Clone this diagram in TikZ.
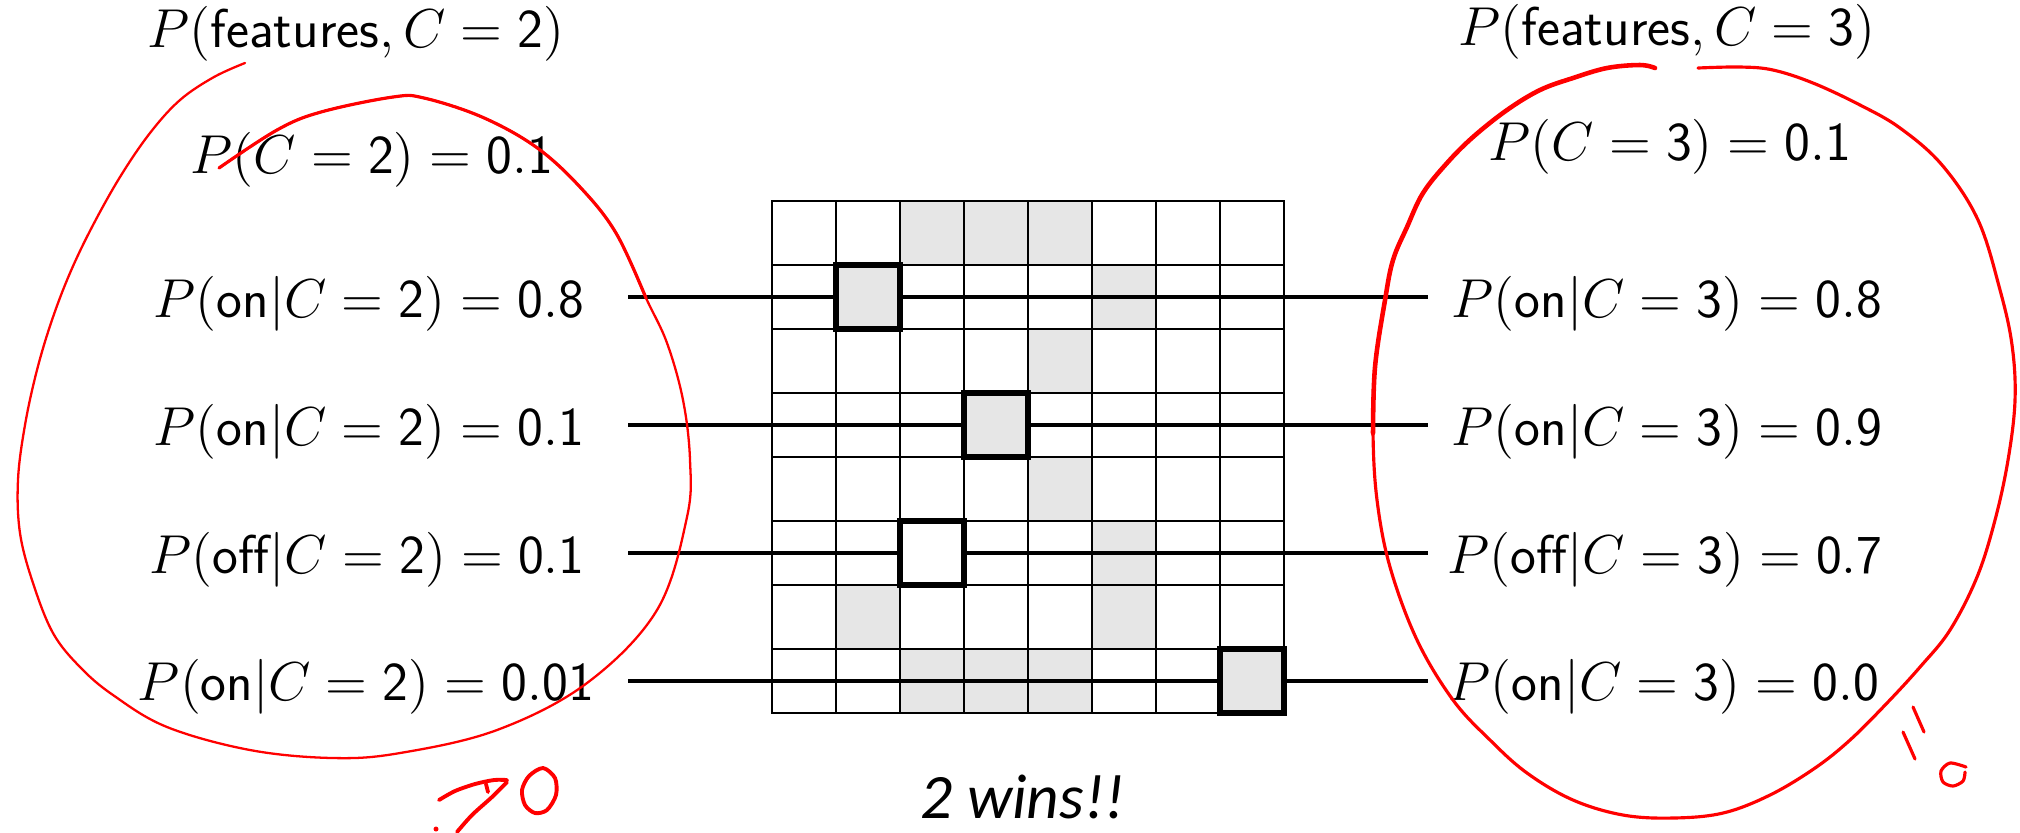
\RequirePackage{fix-cm}
\documentclass[tikz,border=0pt]{standalone}
\usepackage{fontspec}
\usepackage{amsmath}
\newfontfamily\winsfont{Carlito}

\begin{document}
\begin{tikzpicture}[
    x=0.1mm, y=-0.1mm,
    % Styles
    prob/.style={
        font=\fontsize{15.6}{18.7}\selectfont,
        anchor=base, inner sep=0pt
    },
    cellbox/.style={
        rectangle, draw=black, line width=0.5pt,
        minimum size=6.4mm, inner sep=0pt
    },
    featbox/.style={
        rectangle, draw=black, line width=1.7pt,
        minimum size=6.4mm, inner sep=0pt
    },
    wire/.style={
        line width=1.15pt, color=black
    },
    ink/.style={
        color=inkred, line width=0.8pt,
        line cap=round, line join=round
    },
]
% Define colors
\definecolor{inkred}{RGB}{255,0,0}
\definecolor{pixgray}{RGB}{230,230,230}

\useasboundingbox (0,0) rectangle (2020,832);

% Grid cells
\foreach \c in {1,...,8} {
    \foreach \r in {1,...,8} {
        \node[cellbox] (c\c\r) at ({740+64*\c}, {169+64*\r}) {};
    }
}

% Gray pixels
\foreach \c/\r in {3/1, 4/1, 5/1, 6/2, 5/3, 5/5, 6/6, 2/7, 6/7, 3/8, 4/8, 5/8} {
    \node[cellbox, fill=pixgray] at (c\c\r) {};
}

% Feature boxes
\node[featbox, fill=pixgray] (f1) at (c22) {};
\node[featbox, fill=pixgray] (f2) at (c44) {};
\node[featbox, fill=white] (f3) at (c36) {};
\node[featbox, fill=pixgray] (f4) at (c88) {};

% Wire ends
\coordinate (l1) at (628,297);
\coordinate (l2) at (628,425);
\coordinate (l3) at (628,553);
\coordinate (l4) at (628,681);
\coordinate (r1) at (1428,297);
\coordinate (r2) at (1428,425);
\coordinate (r3) at (1428,553);
\coordinate (r4) at (1428,681);

% Wires
\foreach \i in {1,2,3,4} {
    \draw[wire] (l\i) -- (f\i);
    \draw[wire] (f\i) -- (r\i);
}

% Class 2
\node[prob] (joint2) at (356,47) {$P(\mathsf{features},C=\mathsf{2})$};
\node[prob] (prior2) at (372,173) {$P(C=\mathsf{2})=\mathsf{0.1}$};
\node[prob] (p21) at (369,317) {$P(\mathsf{on}|C=\mathsf{2})=\mathsf{0.8}$};
\node[prob] (p22) at (369,445) {$P(\mathsf{on}|C=\mathsf{2})=\mathsf{0.1}$};
\node[prob] (p23) at (367,573) {$P(\mathsf{off}|C=\mathsf{2})=\mathsf{0.1}$};
\node[prob] (p24) at (366,700) {$P(\mathsf{on}|C=\mathsf{2})=\mathsf{0.01}$};

% Class 3
\node[prob] (joint3) at (1667,45) {$P(\mathsf{features},C=\mathsf{3})$};
\node[prob] (prior3) at (1670,160) {$P(C=\mathsf{3})=\mathsf{0.1}$};
\node[prob] (p31) at (1667,317) {$P(\mathsf{on}|C=\mathsf{3})=\mathsf{0.8}$};
\node[prob] (p32) at (1667,445) {$P(\mathsf{on}|C=\mathsf{3})=\mathsf{0.9}$};
\node[prob] (p33) at (1665,573) {$P(\mathsf{off}|C=\mathsf{3})=\mathsf{0.7}$};
\node[prob] (p34) at (1664,700) {$P(\mathsf{on}|C=\mathsf{3})=\mathsf{0.0}$};

% Verdict
\node[anchor=base, inner sep=0pt, font=\winsfont\itshape\fontsize{18}{22}\selectfont]
    (wins) at (1023,818) {2 wins!!};

% Red ink: loop round class 2
\draw[ink, line width=0.65pt] plot[smooth, tension=0.6] coordinates {
    (245,63) (214,77) (180,100) (150,133) (120,177) (92,227) (70,273)
    (52,320) (37,370) (25,425) (18,480) (20,533) (33,583)
    (53,633) (80,667) (113,695) (167,727) (250,750) (333,758)
    (400,753) (497,730) (587,683) (657,610)
    (687,517) (690,460) (683,400) (667,343) (646,298) (616,233)
    (580,187) (536,147) (482,117) (424,98) (393,97) (321,112) (277,130)
    (219,168)};
\draw[ink, line width=0.9pt] plot[smooth, tension=0.6] coordinates {
    (646,298) (616,233) (580,187) (536,147) (482,117) (424,98) (393,97)
    (321,112) (277,130) (219,168)};

% Red ink: loop round class 3
\draw[ink, line width=0.9pt] plot[smooth, tension=0.6] coordinates {
    (1655,68) (1640,65) (1607,68) (1573,78) (1540,90) (1507,110) (1473,137)
    (1447,163) (1423,193) (1407,227) (1393,260) (1385,300) (1375,367)
    (1373,433) (1377,500) (1390,567) (1417,640) (1453,700) (1490,740)
    (1527,773) (1573,800) (1623,815) (1673,818) (1723,813) (1770,795)
    (1815,768) (1850,740) (1887,703) (1920,667) (1950,630) (1977,577)
    (1995,520) (2008,460) (2015,400) (2012,345) (2000,290)
    (1978,220) (1942,165) (1900,128) (1860,105) (1813,83)
    (1773,70) (1740,67) (1698,68)};
\draw[ink, line width=1.3pt] plot[smooth, tension=0.6] coordinates {
    (1655,68) (1640,65) (1607,68) (1573,78) (1540,90) (1507,110) (1473,137)
    (1447,163) (1423,193) (1407,227) (1393,260) (1385,300) (1375,367)
    (1373,433)};

% Red ink: scribbled scores
\draw[ink, line width=1.1pt] plot[smooth] coordinates {(439,800) (455,791) (475,784) (494,780) (507,780)};
\draw[ink, line width=1.1pt] plot[smooth] coordinates {(507,782) (492,797) (472,815) (457,832)};
\draw[ink, line width=1.1pt] (486,784) -- (488,792);
\fill[inkred] (436,829) circle (0.25mm);
\draw[ink, line width=1.1pt] plot[smooth cycle] coordinates {
    (543,768) (555,778) (556,795) (547,810) (535,813) (525,805) (522,790) (529,776)};

\draw[ink, line width=0.9pt] (1913,707) -- (1924,732);
\draw[ink, line width=0.9pt] (1903,732) -- (1915,759);
\draw[ink, line width=0.9pt] plot[smooth] coordinates {
    (1966,767) (1950,763) (1941,771) (1943,782) (1953,786) (1963,781) (1965,772)};

\end{tikzpicture}
\end{document}
